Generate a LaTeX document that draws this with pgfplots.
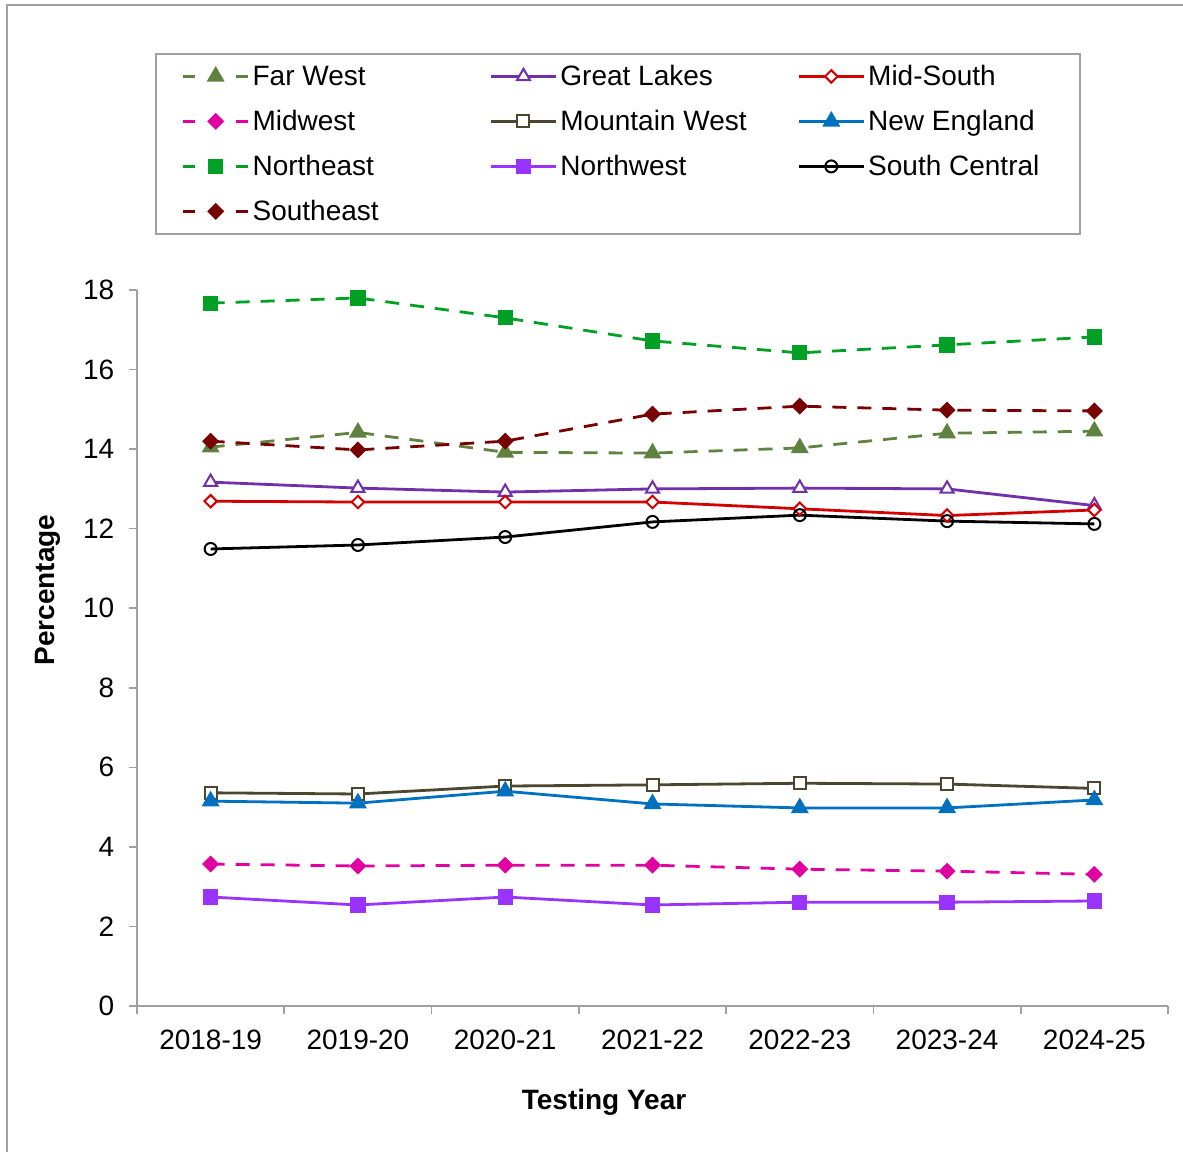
\documentclass[border=0pt]{standalone}
\usepackage{fontspec}
\setmainfont{Liberation Sans}
\usepackage{pgfplots}
\pgfplotsset{compat=1.18}

\definecolor{farwest}{RGB}{95,130,65}
\definecolor{greatlakes}{RGB}{112,48,170}
\definecolor{midsouth}{RGB}{210,0,0}
\definecolor{midwest}{RGB}{225,0,160}
\definecolor{mountain}{RGB}{75,70,45}
\definecolor{newengland}{RGB}{0,112,192}
\definecolor{northeast}{RGB}{0,160,36}
\definecolor{northwest}{RGB}{153,51,255}
\definecolor{southeast}{RGB}{120,0,0}
\definecolor{framegray}{RGB}{160,160,160}

% fixed-width legend text cells
\newcommand\lgd[2]{\makebox[#1][l]{\rule[-2.2pt]{0pt}{13.7pt}\hspace{1.5pt}#2}}

\pgfplotsset{
  dashleg/.style={legend image code/.code={
    \draw[##1,solid] (0pt,0pt) -- (6pt,0pt) (26.5pt,0pt) -- (32.5pt,0pt);
    \draw[##1,solid] plot[only marks] coordinates {(16.25pt,0pt)};
  }},
  solidleg/.style={legend image code/.code={
    \draw[##1] (0pt,0pt) -- (32.5pt,0pt);
    \draw[##1] plot[only marks] coordinates {(16.25pt,0pt)};
  }},
  dashline/.style={dash pattern=on 7pt off 5.5pt},
}

\begin{document}
\fontsize{14}{17}\selectfont
\begin{tikzpicture}
\path[use as bounding box] (0,0) rectangle (591.5pt,-575.5pt);
\draw[framegray, line width=1pt] (3.5pt,-580pt) -- (3.5pt,-2.5pt) -- (600pt,-2.5pt);
\begin{axis}[
    at={(68.5pt,-503pt)}, anchor=south west,
    scale only axis,
    width=515.5pt, height=358pt,
    xmin=-0.5, xmax=6.5,
    ymin=0, ymax=18,
    axis x line*=bottom, axis y line*=left,
    axis line style={framegray, line width=0.8pt},
    tick align=outside,
    xtick={0,...,6},
    xticklabels={2018-19,2019-20,2020-21,2021-22,2022-23,2023-24,2024-25},
    major x tick style={draw=none},
    minor xtick={-0.5,0.5,...,6.5},
    minor x tick style={framegray, line width=0.8pt},
    minor tick length=4pt,
    ytick={0,2,...,18},
    major tick length=4pt,
    y tick style={framegray, line width=0.8pt},
    /pgf/number format/assume math mode=true,
    xticklabel style={yshift=-3pt},
    yticklabel style={xshift=-2.5pt},
    xlabel={\textbf{Testing Year}},
    ylabel={\textbf{Percentage}},
    xlabel style={at={(axis description cs:0.453,-0.134)}, anchor=center},
    ylabel style={at={(axis description cs:-0.0863,0.581)}, anchor=center},
    clip=false,
    every axis plot/.append style={line width=1.4pt},
    legend columns=3,
    legend cell align=left,
    legend style={at={(axis description cs:0.01746,1.331)}, anchor=north west,
      draw=framegray, line width=0.8pt, inner xsep=13pt, inner ysep=4.5pt,
      row sep=8.9pt, column sep=0pt, nodes={inner sep=0pt}},
  ]
\addplot[farwest, dashline, dashleg, mark=triangle*, mark size=3.8pt, mark options={solid}]
  coordinates {(0,14.05) (1,14.42) (2,13.92) (3,13.90) (4,14.03) (5,14.40) (6,14.45)};
\addplot[greatlakes, solidleg, mark=triangle*, mark size=3.8pt, mark options={fill=white, line width=1pt}]
  coordinates {(0,13.17) (1,13.02) (2,12.92) (3,13.00) (4,13.02) (5,13.00) (6,12.58)};
\addplot[midsouth, solidleg, mark=square*, mark size=2.2pt, mark options={rotate=45, fill=white, line width=1pt}]
  coordinates {(0,12.69) (1,12.67) (2,12.67) (3,12.67) (4,12.50) (5,12.33) (6,12.47)};
\addplot[midwest, dashline, dashleg, mark=square*, mark size=2.3pt, mark options={solid, rotate=45}]
  coordinates {(0,3.57) (1,3.52) (2,3.54) (3,3.54) (4,3.44) (5,3.39) (6,3.31)};
\addplot[mountain, solidleg, mark=square*, mark size=3pt, mark options={fill=white, line width=1pt}]
  coordinates {(0,5.36) (1,5.33) (2,5.53) (3,5.56) (4,5.60) (5,5.58) (6,5.47)};
\addplot[newengland, solidleg, mark=triangle*, mark size=3.8pt]
  coordinates {(0,5.15) (1,5.10) (2,5.40) (3,5.08) (4,4.98) (5,4.98) (6,5.18)};
\addplot[northeast, dashline, dashleg, mark=square*, mark size=3.1pt, mark options={solid}]
  coordinates {(0,17.67) (1,17.80) (2,17.30) (3,16.72) (4,16.42) (5,16.62) (6,16.82)};
\addplot[northwest, solidleg, mark=square*, mark size=3.1pt]
  coordinates {(0,2.74) (1,2.54) (2,2.74) (3,2.54) (4,2.61) (5,2.61) (6,2.64)};
\addplot[black, solidleg, mark=o, mark size=3pt, mark options={fill=white, line width=1pt}]
  coordinates {(0,11.49) (1,11.59) (2,11.79) (3,12.17) (4,12.34) (5,12.19) (6,12.12)};
\addplot[southeast, dashline, dashleg, mark=square*, mark size=2.3pt, mark options={solid, rotate=45}]
  coordinates {(0,14.20) (1,13.98) (2,14.20) (3,14.88) (4,15.08) (5,14.98) (6,14.96)};
\legend{\lgd{120pt}{Far West}, \lgd{120pt}{Great Lakes}, \lgd{94.5pt}{Mid-South},
        \lgd{120pt}{Midwest}, \lgd{120pt}{Mountain West}, \lgd{94.5pt}{New England},
        \lgd{120pt}{Northeast}, \lgd{120pt}{Northwest}, \lgd{94.5pt}{South Central},
        \lgd{120pt}{Southeast}}
\end{axis}
\end{tikzpicture}
\end{document}
